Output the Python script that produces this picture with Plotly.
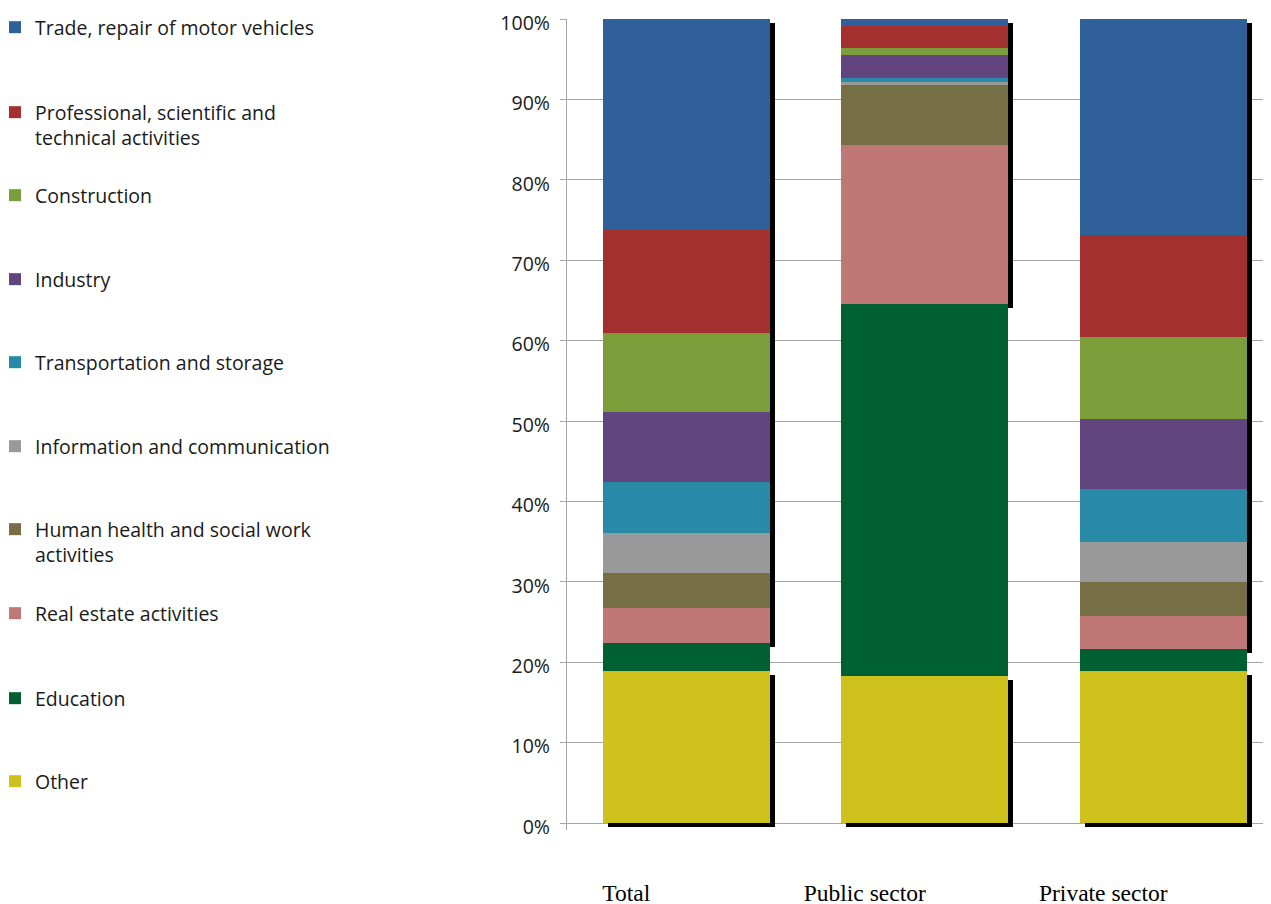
import plotly.graph_objects as go

# ---------------- data (percent shares, bottom -> top of each bar) ----------------
categories = ["Total", "Public sector", "Private sector"]

series_names = [
    "Other",
    "Education",
    "Real estate activities",
    "Human health and social work<br>activities",
    "Information and communication",
    "Transportation and storage",
    "Industry",
    "Construction",
    "Professional, scientific and<br>technical activities",
    "Trade, repair of motor vehicles",
]

other = [18.9, 18.3, 18.9]
education = [3.5, 46.3, 2.7]
real_estate = [4.3, 19.7, 4.1]
health = [4.4, 7.5, 4.3]
info_comm = [5.0, 0.4, 4.9]
transport = [6.3, 0.5, 6.6]
industry = [8.7, 2.8, 8.7]
construction = [9.8, 0.9, 10.2]
professional = [12.9, 2.7, 12.7]
trade = [26.2, 0.9, 26.9]

series_values = [other, education, real_estate, health, info_comm, transport,
                 industry, construction, professional, trade]

y_ticks = [0, 10, 20, 30, 40, 50, 60, 70, 80, 90, 100]

# ---------------- styling ----------------
colors = ["#cfc11c", "#006032", "#c07877", "#766f45", "#999999",
          "#288aa6", "#62457f", "#7b9e3a", "#a3302e", "#2f6099"]
has_shadow = [True, False, True, True, True, True, True, True, True, True]
# legend first-line centre (px from top of the page)
legend_px = [782, 699, 614, 530, 447, 363, 280, 196, 113, 28]

OFF = 8                                   # default page body margin
W, H = 1271 - OFF, 904 - OFF
hundred_px, zero_px = 19 - OFF, 823 - OFF
plot_left, plot_top, plot_bottom = 567 - OFF, 19 - OFF, 830 - OFF
ppu = (zero_px - hundred_px) / 100.0     # px per percent
cat_px = 238.5                            # px per category
y_lo = -(plot_bottom - zero_px) / ppu
y_hi = 100
x_hi = -0.5 + (W - plot_left) / cat_px
sx = 5 / cat_px                           # shadow offsets
sy = 4 / ppu

font_fam = "Open Sans"
fsize = 19.5

fig = go.Figure()

# shadows (base axes, drawn underneath)
for name, vals, sh in zip(series_names, series_values, has_shadow):
    fig.add_trace(go.Bar(
        x=categories, y=vals, xaxis="x", yaxis="y",
        marker=dict(color="black" if sh else "rgba(0,0,0,0)", line=dict(width=0)),
        showlegend=False, hoverinfo="skip", cliponaxis=False,
    ))

# real bars (overlay axes)
for i, (name, vals, col) in enumerate(zip(series_names, series_values, colors)):
    lg = "legend" if i == 0 else f"legend{i+1}"
    fig.add_trace(go.Bar(
        x=categories, y=vals, name=name, xaxis="x2", yaxis="y2",
        marker=dict(color=col, line=dict(width=0)),
        legend=lg,
    ))

plot_w = W - plot_left
plot_h = plot_bottom - plot_top

layout = dict(
    width=W, height=H,
    margin=dict(l=plot_left, r=0, t=plot_top, b=H - plot_bottom, autoexpand=False),
    paper_bgcolor="white", plot_bgcolor="white",
    barmode="stack", bargap=0.3,
    font=dict(family=font_fam, size=fsize, color="#1a1a1a"),
    xaxis=dict(range=[-0.5 - sx, x_hi - sx], visible=False,
               categoryorder="array", categoryarray=categories),
    yaxis=dict(range=[y_lo + sy, y_hi + sy], visible=False),
    xaxis2=dict(overlaying="x", anchor="y2", range=[-0.5, x_hi],
                categoryorder="array", categoryarray=categories,
                showgrid=False, showline=False, ticks="",
                tickfont=dict(family="Liberation Serif", size=23.5, color="black"),
                ticklabelshift=-60, ticklabelstandoff=46, automargin=False),
    yaxis2=dict(overlaying="y", anchor="x2", side="left", range=[y_lo, y_hi],
                tickvals=y_ticks, ticktext=[f"{v}%" for v in y_ticks],
                showgrid=True, gridcolor="#a6a6a6", gridwidth=1.3,
                zeroline=False, showline=True, linecolor="#a6a6a6", linewidth=1.3,
                ticks="outside", ticklen=6, tickcolor="#a6a6a6", tickwidth=1.3,
                tickfont=dict(family=font_fam, size=fsize, color="#1a1a1a"),
                ticklabelstandoff=6, ticklabelshift=4,
                ticklabeloverflow="allow", automargin=False),
)

for i, py in enumerate(legend_px):
    key = "legend" if i == 0 else f"legend{i+1}"
    top_px = py - OFF - 20
    layout[key] = dict(
        x=(-13 - plot_left) / plot_w,
        y=(plot_bottom - top_px) / plot_h,
        xanchor="left", yanchor="top",
        bgcolor="rgba(0,0,0,0)", borderwidth=0,
        valign="top", itemclick=False, itemdoubleclick=False,
        font=dict(family=font_fam, size=fsize, color="#1a1a1a"),
    )

fig.update_layout(**layout)
fig.write_html("out.html")
